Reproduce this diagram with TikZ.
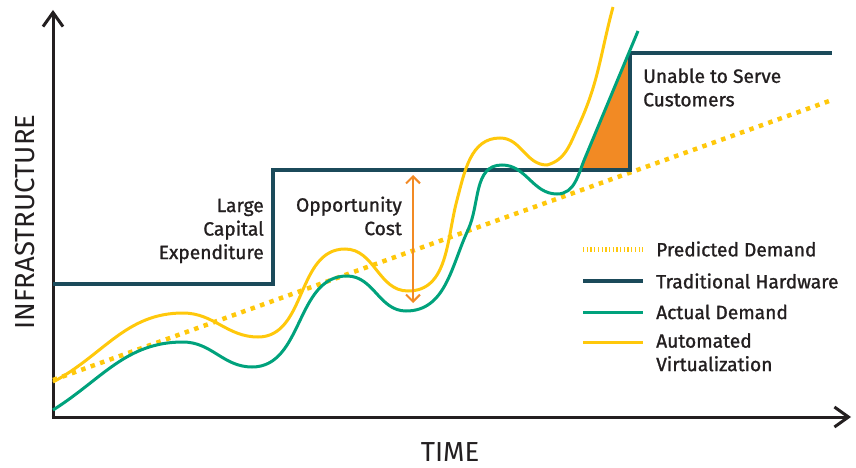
\documentclass[tikz,border=0pt]{standalone}
\usepackage{fontspec}
\setmainfont{Fira Sans}
\newfontfamily\labelfont{Fira Sans}[FakeBold=1.2]
\usetikzlibrary{arrows.meta}

\definecolor{inkdark}{HTML}{231F20}
\definecolor{hwteal}{HTML}{1B4A5A}
\definecolor{demgreen}{HTML}{00A27C}
\definecolor{virtyellow}{HTML}{FFC80B}
\definecolor{costorange}{HTML}{F28A24}

\tikzset{
	axisline/.style={line width=3pt, draw=inkdark, -{Straight Barb[length=14pt, width=20pt]}},
	axistitle/.style={font=\fontsize{27.5}{30}\selectfont, text=inkdark, inner sep=0pt},
	hardware/.style={line width=3.5pt, draw=hwteal, line join=miter},
	actual/.style={line width=3pt, draw=demgreen},
	virtual/.style={line width=3pt, draw=virtyellow},
	predicted/.style={line width=4.5pt, draw=virtyellow, dash pattern=on 4.5pt off 5.5pt},
	keypredicted/.style={line width=5pt, draw=virtyellow, dash pattern=on 1.3pt off 2.4pt},
	label/.style={font=\labelfont\fontsize{19.2}{23.5}\selectfont, text=inkdark, inner sep=0pt},
	keylabel/.style={label, anchor=west},
}

\begin{document}
	\begin{tikzpicture}[x=1pt, y=-1pt]
		\useasboundingbox (0,0) rectangle (856,468);
		% axes
		\coordinate (o) at (53,417);
		\coordinate (ytop) at (53,10);
		\coordinate (xend) at (851,417);
		\draw[axisline] (53,418.5) -- (ytop);
		\draw[axisline] (51.5,417) -- (xend);
		\node[axistitle, rotate=90] (infra) at (25,222) {INFRASTRUCTURE};
		\node[axistitle] (time) at (450,452.5) {TIME};

		% predicted demand
		\coordinate (p0) at (53,380);
		\coordinate (p1) at (832,100);
		\draw[predicted] (p0) -- (p1);

		% unable to serve
		\fill[costorange] (580,170) -- (630,170) -- (630,50.2) -- cycle;

		% traditional hardware
		\draw[hardware] (53,284) -- (273,284) -- (273,170) -- (630,170) -- (630,53) -- (832,53);

		% automated virtualization
		\draw[virtual] (53,382) to[out=28,in=180] (183,313) to[out=0,in=180] (258,337)
			to[out=0,in=180] (345,249) to[out=0,in=180] (408,291)
			to[out=0,in=255] (457,200) to[out=75,in=180] (500,138)
			to[out=0,in=180] (547,165) to[out=15,in=245] (578,127)
			to[out=65,in=255] (613,7);

		% actual demand
		\draw[actual] (53,410) to[out=32,in=180] (183,342) to[out=0,in=180] (252,367)
			to[out=0,in=180] (347,276) to[out=0,in=180] (406,311)
			to[out=0,in=245] (468,230) to[out=65,in=180] (502,165)
			to[out=0,in=180] (557,194) to[out=0,in=247] (585,158) -- (638,31);

		% opportunity cost
		\coordinate (c0) at (413,175);
		\coordinate (c1) at (413,303);
		\draw[line width=2pt, costorange, {Straight Barb[length=7pt, width=14pt]}-{Straight Barb[length=7pt, width=14pt]}] (c0) -- (c1);

		\node[label, anchor=east, align=right] (capex) at (264,231) {Large\\Capital\\Expenditure};
		\node[label, anchor=east, align=right] (oppcost) at (402,216) {Opportunity\\Cost};
		\node[label, anchor=west, align=left] (unable) at (643,87.5) {Unable to Serve\\Customers};

		% legend
		\draw[keypredicted] (583,249) -- (643,249);
		\draw[hardware] (583,281) -- (643,281);
		\draw[actual] (583,312) -- (643,312);
		\draw[virtual] (583,342) -- (643,342);
		\node[keylabel] (kpred) at (656,249) {Predicted Demand};
		\node[keylabel] (khw) at (656,281) {Traditional Hardware};
		\node[keylabel] (kact) at (656,312) {Actual Demand};
		\node[keylabel, align=left, anchor=north west] (kvirt) at (656,333) {Automated\\Virtualization};
	\end{tikzpicture}
\end{document}
